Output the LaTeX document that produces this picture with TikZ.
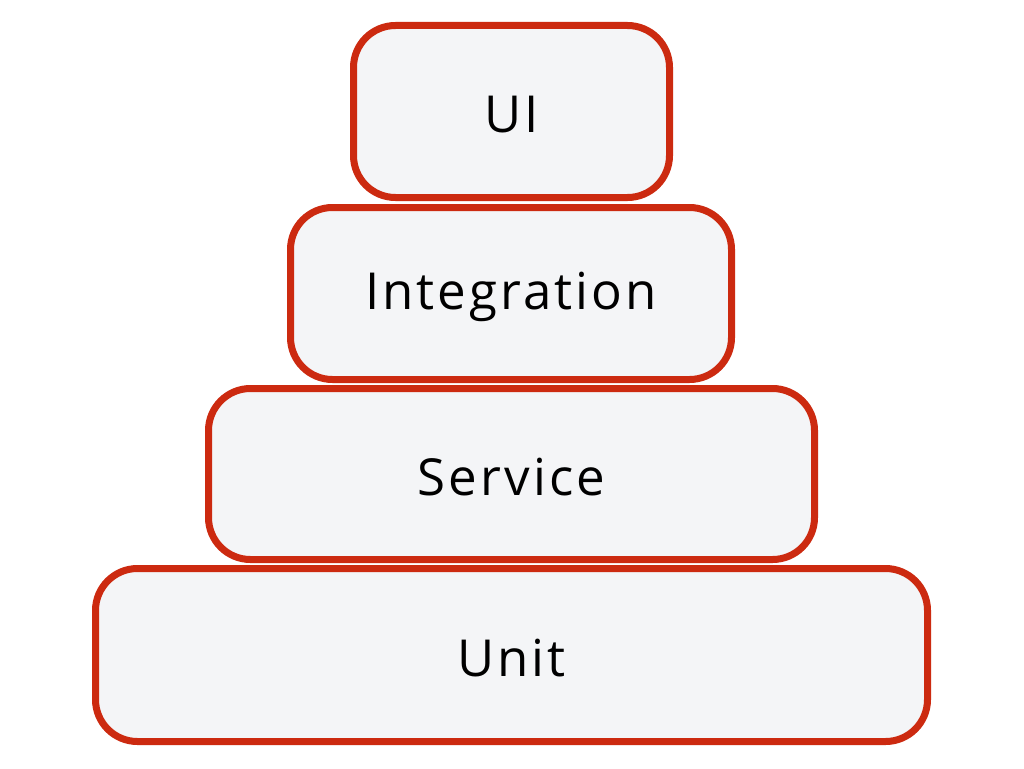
\documentclass[tikz,border=0pt]{standalone}
\usepackage{fontspec}
\setmainfont{Open Sans}[LetterSpace=6]
\begin{document}
\begin{tikzpicture}[x=1pt,y=-1pt,
  layer/.style={draw=boxred, line width=7pt, fill=boxfill, rounded corners=42pt, inner sep=0pt},
  lbl/.style={font=\fontsize{51}{56}\selectfont, text=black}]
\definecolor{boxred}{HTML}{CC2A10}
\definecolor{boxfill}{HTML}{F4F5F7}
\useasboundingbox (0,0) rectangle (1024,768);
\fill[white] (0,0) rectangle (1024,768);
\node[layer, minimum width=316pt, minimum height=172pt] (ui) at (511.5,111.5) {};
\node[layer, minimum width=441pt, minimum height=172pt] (integ) at (511,293.5) {};
\node[layer, minimum width=606pt, minimum height=171pt] (serv) at (511.5,474) {};
\node[layer, minimum width=832pt, minimum height=173pt] (unit) at (511.5,655) {};
\node[lbl] (tui) at ([yshift=-3pt]ui.center) {UI};
\node[lbl] (tinteg) at ([yshift=-3pt]integ.center) {Integration};
\node[lbl] (tserv) at ([yshift=-3pt]serv.center) {Service};
\node[lbl] (tunit) at ([yshift=-3pt]unit.center) {Unit};
\end{tikzpicture}
\end{document}
